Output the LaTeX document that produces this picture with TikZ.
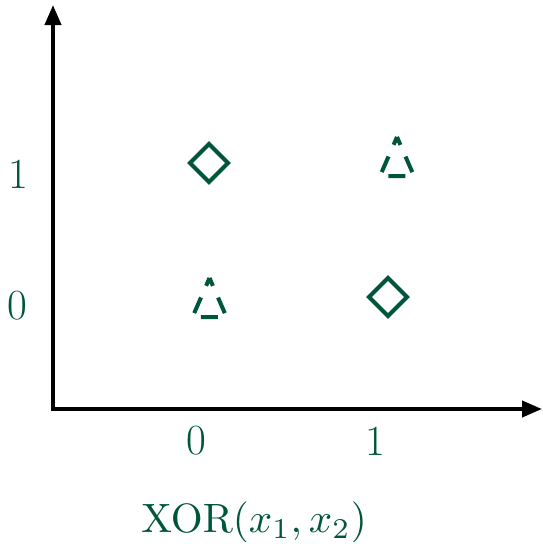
\documentclass[tikz,border=0pt]{standalone}
\usepackage{graphicx}
\usetikzlibrary{arrows.meta}
\definecolor{dkgreen}{RGB}{0,86,60}
\begin{document}
\begin{tikzpicture}[x=1pt,y=-1pt,
  axis/.style={line width=4pt,-{Triangle[length=20pt,width=16pt]}},
  diamark/.style={draw=dkgreen,line width=4pt,miter limit=10},
  trimark/.style={draw=dkgreen,line width=4pt,dash pattern=on 17pt off 12.75pt,dash phase=8.5pt},
  lbl/.style={text=dkgreen,inner sep=0pt,font=\fontsize{43}{52}\selectfont}]
\useasboundingbox (0,0) rectangle (542,544);
\coordinate (o1) at (53,411);
\coordinate (yend) at (53,5);
\coordinate (o2) at (51,409);
\coordinate (xend) at (542,409);
\draw[axis] (o1) -- (yend);
\draw[axis] (o2) -- (xend);
% diamonds
\draw[diamark] (209,144) -- (228,163) -- (209,182) -- (190,163) -- cycle;
\draw[diamark] (388,278) -- (407,297) -- (388,316) -- (369,297) -- cycle;
% dashed triangles
\draw[trimark] (397,137) -- (380,176) -- (414,176) -- cycle;
\draw[trimark] (209.5,278) -- (192.5,317) -- (226.5,317) -- cycle;
% labels
\node[lbl] (x0) at (196,441) {0};
\node[lbl] (x1) at (375,441) {1};
\node[lbl] (y1) at (18,174) {1};
\node[lbl] (y0) at (17,306) {0};
\node[text=dkgreen,inner sep=0pt] (title) at (254,522) {\scalebox{4.1}{$\mathrm{XOR}(x_1,x_2)$}};
\end{tikzpicture}
\end{document}
